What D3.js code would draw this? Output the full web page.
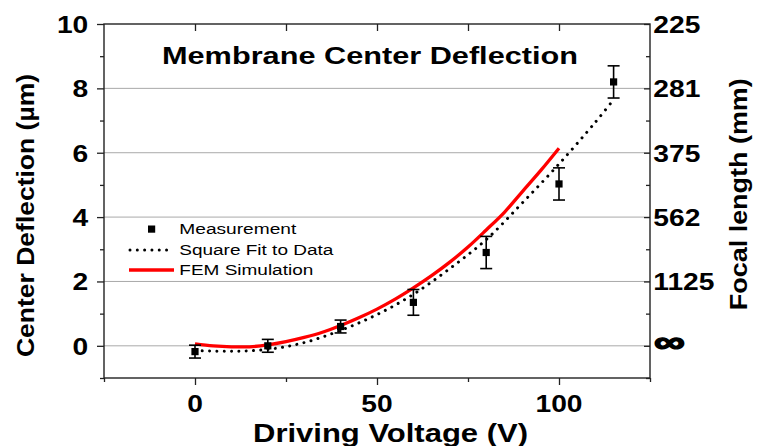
<!DOCTYPE html>
<html>
<head>
<meta charset="utf-8">
<script src="https://cdn.jsdelivr.net/npm/d3@7"></script>
<style>
  html, body { margin: 0; padding: 0; background: #fff; }
  svg { display: block; }
  text { font-family: "Liberation Sans", Arial, sans-serif; fill: #000; }
</style>
</head>
<body>
<svg id="chart" width="758" height="446"></svg>
<script>
// Measured membrane center deflection vs. driving voltage
const voltage = [0, 20, 40, 60, 80, 100, 115];
const deflection = [-0.18, 0.0, 0.6, 1.35, 2.9, 5.03, 8.2];
const deflectionErr = [0.2, 0.2, 0.2, 0.4, 0.5, 0.5, 0.5];

// Square fit to the measurements
const fitVoltage = [0, 10, 20, 30, 40, 50, 60, 70, 80, 90, 100, 110, 115];
const fitDeflection = [-0.15, -0.17, -0.11, 0.1, 0.48, 0.97, 1.6, 2.4, 3.3, 4.45, 5.65, 6.95, 7.65];

// FEM simulation
const femVoltage = [0, 5, 10, 15, 20, 25, 30, 35, 40, 45, 50, 55, 60, 65, 70, 75, 80, 85, 90, 95, 100];
const femDeflection = [0.06, 0.0, -0.03, -0.03, 0.03, 0.13, 0.26, 0.42, 0.63, 0.87, 1.14, 1.45, 1.8, 2.18, 2.6, 3.07, 3.6, 4.15, 4.8, 5.45, 6.14];

// Axis ticks
const xMajor = [0, 50, 100];
const xMinor = [-25, 25, 75, 125];
const yMajor = [0, 2, 4, 6, 8, 10];
const yMinor = [-1, 1, 3, 5, 7, 9];
const focalLabels = ["\u221E", "1125", "562", "375", "281", "225"];

const svg = d3.select("#chart");
const x = d3.scaleLinear().domain([-25, 125]).range([104, 650]);
const y = d3.scaleLinear().domain([-1, 10]).range([378, 24]);
const [x0, x1] = x.range();
const [y0, y1] = y.range();
const SX = 1.2; // horizontal widening of tick-label glyphs

// grid lines
svg.append("g").selectAll("line").data(yMajor.filter(v => v > y.domain()[0] && v < y.domain()[1]))
  .join("line")
  .attr("x1", x0).attr("x2", x1)
  .attr("y1", d => y(d)).attr("y2", d => y(d))
  .attr("stroke", "#a9a9a9").attr("stroke-width", 1);

// tick marks via d3 axes
function tickAxis(axisFn, scale, values, size, transform) {
  const g = svg.append("g").attr("transform", transform)
    .call(axisFn(scale).tickValues(values).tickSize(size).tickSizeOuter(0).tickFormat(""));
  g.select(".domain").remove();
  g.selectAll("line").attr("stroke", "#222").attr("stroke-width", 1.3);
  return g;
}
tickAxis(d3.axisBottom, x, xMajor, 7, `translate(0,${y0})`);
tickAxis(d3.axisBottom, x, xMinor, 4, `translate(0,${y0})`);
tickAxis(d3.axisBottom, x, xMajor.concat(xMinor).filter(v => v > -25 && v < 125), 7, `translate(0,${y1})`);
tickAxis(d3.axisLeft, y, yMajor, 7, `translate(${x0},0)`);
tickAxis(d3.axisLeft, y, yMinor, 4, `translate(${x0},0)`);
tickAxis(d3.axisRight, y, yMajor, -6, `translate(${x1},0)`);
tickAxis(d3.axisRight, y, yMinor, -4, `translate(${x1},0)`);

// frame
svg.append("rect")
  .attr("x", x0).attr("y", y1).attr("width", x1 - x0).attr("height", y0 - y1)
  .attr("fill", "none").attr("stroke", "#222").attr("stroke-width", 1.4);

// tick labels
const lab = svg.append("g").attr("font-weight", "bold").attr("font-size", 23.5);
lab.selectAll(".xl").data(xMajor).join("text")
  .attr("text-anchor", "middle")
  .attr("transform", d => `translate(${x(d)},${y0 + 33.7}) scale(${SX},1)`)
  .text(d => d);
lab.selectAll(".yl").data(yMajor).join("text")
  .attr("text-anchor", "end")
  .attr("transform", d => `translate(${x0 - 15.7},${y(d) + 9}) scale(${SX},1)`)
  .text(d => d);
lab.selectAll(".fl").data(yMajor).join("text")
  .attr("text-anchor", "start")
  .attr("transform", (d, i) => i === 0
      ? `translate(${x1 + 4},${y(d) + 6}) scale(1.45,1)`
      : `translate(${x1 + 3.3},${y(d) + 9}) scale(${SX},1)`)
  .attr("font-size", (d, i) => i === 0 ? 30 : null)
  .attr("stroke", (d, i) => i === 0 ? "#000" : null)
  .attr("stroke-width", (d, i) => i === 0 ? 1.4 : null)
  .text((d, i) => focalLabels[i]);

// axis titles
svg.append("text")
  .attr("x", 162).attr("y", 64)
  .attr("font-size", 23.5).attr("font-weight", "bold")
  .attr("textLength", 416).attr("lengthAdjust", "spacingAndGlyphs")
  .text("Membrane Center Deflection");
svg.append("text")
  .attr("x", 253).attr("y", 441.5)
  .attr("font-size", 26.5).attr("font-weight", "bold")
  .attr("textLength", 275).attr("lengthAdjust", "spacingAndGlyphs")
  .text("Driving Voltage (V)");
svg.append("text")
  .attr("transform", "translate(33.5,215.5) rotate(-90)")
  .attr("text-anchor", "middle")
  .attr("font-size", 23.3).attr("font-weight", "bold")
  .attr("textLength", 283).attr("lengthAdjust", "spacingAndGlyphs")
  .text("Center Deflection (\u00B5m)");
svg.append("text")
  .attr("transform", "translate(746.5,194.2) rotate(-90)")
  .attr("text-anchor", "middle")
  .attr("font-size", 23.3).attr("font-weight", "bold")
  .attr("textLength", 232).attr("lengthAdjust", "spacingAndGlyphs")
  .text("Focal length (mm)");

// curves
const plot = svg.append("g");
const fitLine = d3.line().x(d => x(d[0])).y(d => y(d[1])).curve(d3.curveCatmullRom);
plot.append("path")
  .datum(d3.zip(fitVoltage, fitDeflection))
  .attr("d", fitLine)
  .attr("fill", "none").attr("stroke", "#000").attr("stroke-width", 3)
  .attr("stroke-linecap", "round").attr("stroke-dasharray", "0.01 7.3");
plot.append("path")
  .datum(d3.zip(femVoltage, femDeflection))
  .attr("d", fitLine)
  .attr("fill", "none").attr("stroke", "#ff0000").attr("stroke-width", 3.3);

// error bars + markers
const pts = d3.zip(voltage, deflection, deflectionErr);
const eb = plot.append("g").attr("stroke", "#000").attr("stroke-width", 1.6);
eb.selectAll(".v").data(pts).join("line")
  .attr("x1", d => x(d[0])).attr("x2", d => x(d[0]))
  .attr("y1", d => y(d[1] - d[2])).attr("y2", d => y(d[1] + d[2]));
eb.selectAll(".t").data(pts).join("line")
  .attr("x1", d => x(d[0]) - 6).attr("x2", d => x(d[0]) + 6)
  .attr("y1", d => y(d[1] + d[2])).attr("y2", d => y(d[1] + d[2]));
eb.selectAll(".b").data(pts).join("line")
  .attr("x1", d => x(d[0]) - 6).attr("x2", d => x(d[0]) + 6)
  .attr("y1", d => y(d[1] - d[2])).attr("y2", d => y(d[1] - d[2]));
plot.append("g").selectAll("rect").data(pts).join("rect")
  .attr("x", d => x(d[0]) - 3.6).attr("y", d => y(d[1]) - 3.6)
  .attr("width", 7.2).attr("height", 7.2).attr("fill", "#000");

// legend
const leg = svg.append("g").attr("font-size", 15.5);
leg.append("rect").attr("x", 148).attr("y", 225.5).attr("width", 7.2).attr("height", 7.2).attr("fill", "#000");
leg.append("line").attr("x1", 130).attr("x2", 170).attr("y1", 250).attr("y2", 250)
  .attr("stroke", "#000").attr("stroke-width", 3)
  .attr("stroke-linecap", "round").attr("stroke-dasharray", "0.01 7.3");
leg.append("line").attr("x1", 129).attr("x2", 174).attr("y1", 270).attr("y2", 270)
  .attr("stroke", "#ff0000").attr("stroke-width", 3.3);
const legendItems = [["Measurement", 233.8, 117], ["Square Fit to Data", 254.6, 154], ["FEM Simulation", 275.2, 134]];
leg.selectAll("text").data(legendItems).join("text")
  .attr("x", 179.3).attr("y", d => d[1])
  .attr("textLength", d => d[2]).attr("lengthAdjust", "spacingAndGlyphs")
  .text(d => d[0]);
</script>
</body>
</html>
